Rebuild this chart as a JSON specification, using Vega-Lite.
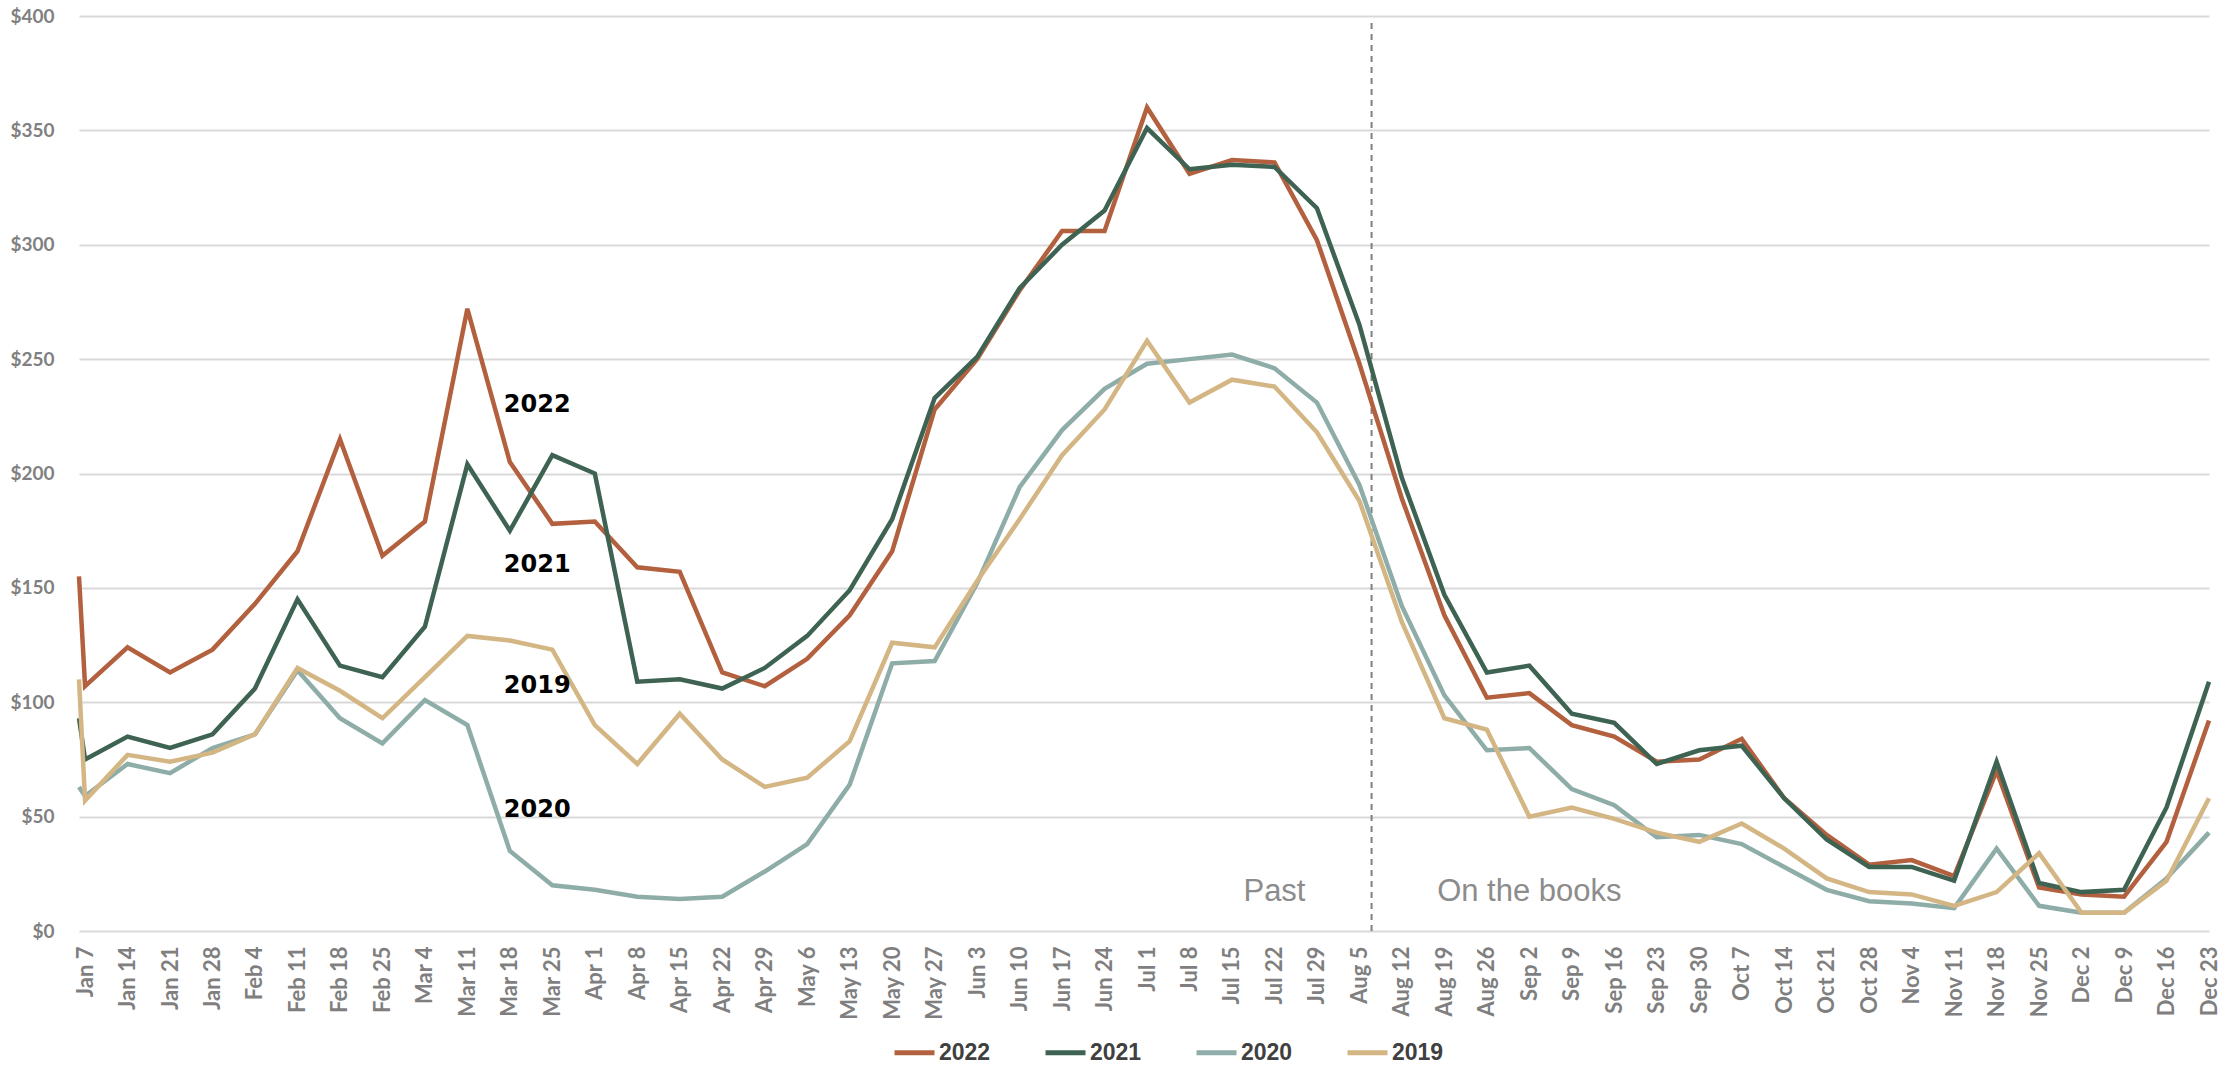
{
  "$schema": "https://vega.github.io/schema/vega-lite/v6.json",
  "width": 2130,
  "height": 915,
  "autosize": {"type": "none"},
  "padding": {"left": 79, "top": 16, "right": 30, "bottom": 140},
  "background": "white",
  "config": {"view": {"stroke": null}, "font": "Lato"},
  "datasets": {
    "weekly": [
      {"week": "2018-01-06", "2022": 155, "2021": 93, "2020": 63, "2019": 110},
      {"week": "2018-01-07", "2022": 107, "2021": 75, "2020": 59, "2019": 57},
      {"week": "2018-01-14", "2022": 124, "2021": 85, "2020": 73, "2019": 77},
      {"week": "2018-01-21", "2022": 113, "2021": 80, "2020": 69, "2019": 74},
      {"week": "2018-01-28", "2022": 123, "2021": 86, "2020": 80, "2019": 78},
      {"week": "2018-02-04", "2022": 143, "2021": 106, "2020": 86, "2019": 86},
      {"week": "2018-02-11", "2022": 166, "2021": 145, "2020": 114, "2019": 115},
      {"week": "2018-02-18", "2022": 215, "2021": 116, "2020": 93, "2019": 105},
      {"week": "2018-02-25", "2022": 164, "2021": 111, "2020": 82, "2019": 93},
      {"week": "2018-03-04", "2022": 179, "2021": 133, "2020": 101, "2019": 111},
      {"week": "2018-03-11", "2022": 272, "2021": 204, "2020": 90, "2019": 129},
      {"week": "2018-03-18", "2022": 205, "2021": 175, "2020": 35, "2019": 127},
      {"week": "2018-03-25", "2022": 178, "2021": 208, "2020": 20, "2019": 123},
      {"week": "2018-04-01", "2022": 179, "2021": 200, "2020": 18, "2019": 90},
      {"week": "2018-04-08", "2022": 159, "2021": 109, "2020": 15, "2019": 73},
      {"week": "2018-04-15", "2022": 157, "2021": 110, "2020": 14, "2019": 95},
      {"week": "2018-04-22", "2022": 113, "2021": 106, "2020": 15, "2019": 75},
      {"week": "2018-04-29", "2022": 107, "2021": 115, "2020": 26, "2019": 63},
      {"week": "2018-05-06", "2022": 119, "2021": 129, "2020": 38, "2019": 67},
      {"week": "2018-05-13", "2022": 138, "2021": 149, "2020": 64, "2019": 83},
      {"week": "2018-05-20", "2022": 166, "2021": 180, "2020": 117, "2019": 126},
      {"week": "2018-05-27", "2022": 228, "2021": 233, "2020": 118, "2019": 124},
      {"week": "2018-06-03", "2022": 250, "2021": 251, "2020": 152, "2019": 153},
      {"week": "2018-06-10", "2022": 280, "2021": 281, "2020": 194, "2019": 180},
      {"week": "2018-06-17", "2022": 306, "2021": 300, "2020": 219, "2019": 208},
      {"week": "2018-06-24", "2022": 306, "2021": 315, "2020": 237, "2019": 228},
      {"week": "2018-07-01", "2022": 360, "2021": 351, "2020": 248, "2019": 258},
      {"week": "2018-07-08", "2022": 331, "2021": 333, "2020": 250, "2019": 231},
      {"week": "2018-07-15", "2022": 337, "2021": 335, "2020": 252, "2019": 241},
      {"week": "2018-07-22", "2022": 336, "2021": 334, "2020": 246, "2019": 238},
      {"week": "2018-07-29", "2022": 302, "2021": 316, "2020": 231, "2019": 218},
      {"week": "2018-08-05", "2022": 248, "2021": 265, "2020": 195, "2019": 188},
      {"week": "2018-08-12", "2022": 189, "2021": 198, "2020": 142, "2019": 135},
      {"week": "2018-08-19", "2022": 138, "2021": 147, "2020": 103, "2019": 93},
      {"week": "2018-08-26", "2022": 102, "2021": 113, "2020": 79, "2019": 88},
      {"week": "2018-09-02", "2022": 104, "2021": 116, "2020": 80, "2019": 50},
      {"week": "2018-09-09", "2022": 90, "2021": 95, "2020": 62, "2019": 54},
      {"week": "2018-09-16", "2022": 85, "2021": 91, "2020": 55, "2019": 49},
      {"week": "2018-09-23", "2022": 74, "2021": 73, "2020": 41, "2019": 43},
      {"week": "2018-09-30", "2022": 75, "2021": 79, "2020": 42, "2019": 39},
      {"week": "2018-10-07", "2022": 84, "2021": 81, "2020": 38, "2019": 47},
      {"week": "2018-10-14", "2022": 58, "2021": 58, "2020": 28, "2019": 36},
      {"week": "2018-10-21", "2022": 42, "2021": 40, "2020": 18, "2019": 23},
      {"week": "2018-10-28", "2022": 29, "2021": 28, "2020": 13, "2019": 17},
      {"week": "2018-11-04", "2022": 31, "2021": 28, "2020": 12, "2019": 16},
      {"week": "2018-11-11", "2022": 24, "2021": 22, "2020": 10, "2019": 11},
      {"week": "2018-11-18", "2022": 70, "2021": 74, "2020": 36, "2019": 17},
      {"week": "2018-11-25", "2022": 19, "2021": 21, "2020": 11, "2019": 34},
      {"week": "2018-12-02", "2022": 16, "2021": 17, "2020": 8, "2019": 8},
      {"week": "2018-12-09", "2022": 15, "2021": 18, "2020": 8, "2019": 8},
      {"week": "2018-12-16", "2022": 39, "2021": 54, "2020": 23, "2019": 22},
      {"week": "2018-12-23", "2022": 92, "2021": 109, "2020": 43, "2019": 58}
    ],
    "seriesNotes": [
      {"week": "2018-03-17", "value": 230, "label": "2022"},
      {"week": "2018-03-17", "value": 160, "label": "2021"},
      {"week": "2018-03-17", "value": 107, "label": "2019"},
      {"week": "2018-03-17", "value": 53, "label": "2020"}
    ],
    "phaseNotes": [
      {"week": "2018-07-22", "value": 17, "label": "Past"},
      {"week": "2018-09-02", "value": 17, "label": "On the books"}
    ],
    "divider": [
      {"week": "2018-08-07", "bottom": 0, "top": 397}
    ]
  },
  "layer": [
    {
      "data": {"name": "divider"},
      "mark": {"type": "rule", "color": "#808080", "strokeWidth": 2, "strokeDash": [6, 5]},
      "encoding": {
        "x": {"field": "week", "type": "temporal"},
        "y": {"field": "bottom", "type": "quantitative"},
        "y2": {"field": "top"}
      }
    },
    {
      "data": {"name": "weekly"},
      "transform": [{"fold": ["2022", "2021", "2020", "2019"], "as": ["season", "rate"]}],
      "mark": {"type": "line", "strokeWidth": 4.5},
      "encoding": {
        "x": {
          "field": "week",
          "type": "temporal",
          "scale": {"type": "utc", "nice": false},
          "axis": {
            "title": null,
            "tickCount": {"interval": "week", "step": 1},
            "labelExpr": "utcFormat(datum.value, '%b %-d')",
            "labelAngle": -90,
            "labelFont": "Lato",
            "labelFontWeight": "bold",
            "labelFontSize": 22,
            "labelColor": "#7f7f7f",
            "labelPadding": 15,
            "labelOverlap": false,
            "labelFlush": false,
            "labelBound": false,
            "ticks": false,
            "domain": false,
            "grid": false
          }
        },
        "y": {
          "field": "rate",
          "type": "quantitative",
          "scale": {"domain": [0, 400], "nice": false},
          "axis": {
            "title": null,
            "values": [0, 50, 100, 150, 200, 250, 300, 350, 400],
            "format": "$,.0f",
            "labelFont": "Lato",
            "labelFontWeight": "bold",
            "labelFontSize": 19,
            "labelColor": "#808080",
            "labelPadding": 25,
            "ticks": false,
            "domain": false,
            "gridColor": "#d9d9d9",
            "gridWidth": 2
          }
        },
        "color": {
          "field": "season",
          "type": "nominal",
          "scale": {
            "domain": ["2022", "2021", "2020", "2019"],
            "range": ["#B3603F", "#3E6352", "#8FADA8", "#D3B683"]
          },
          "legend": {
            "title": null,
            "orient": "none",
            "legendX": 813,
            "legendY": 1014,
            "direction": "horizontal",
            "padding": 0,
            "symbolType": "stroke",
            "symbolStrokeWidth": 5,
            "symbolSize": 1600,
            "labelFont": "Liberation Sans Narrow, Liberation Sans",
            "labelFontWeight": "bold",
            "labelFontSize": 23,
            "labelColor": "#404040",
            "labelOffset": 2,
            "columnPadding": 44
          }
        }
      }
    },
    {
      "data": {"name": "seriesNotes"},
      "mark": {"type": "text", "align": "left", "baseline": "middle", "font": "DejaVu Sans", "fontWeight": "bold", "fontSize": 24, "color": "#000000"},
      "encoding": {
        "x": {"field": "week", "type": "temporal"},
        "y": {"field": "value", "type": "quantitative"},
        "text": {"field": "label"}
      }
    },
    {
      "data": {"name": "phaseNotes"},
      "mark": {"type": "text", "align": "center", "baseline": "middle", "font": "Liberation Sans", "fontSize": 31, "color": "#8c8c8c"},
      "encoding": {
        "x": {"field": "week", "type": "temporal"},
        "y": {"field": "value", "type": "quantitative"},
        "text": {"field": "label"}
      }
    }
  ]
}
